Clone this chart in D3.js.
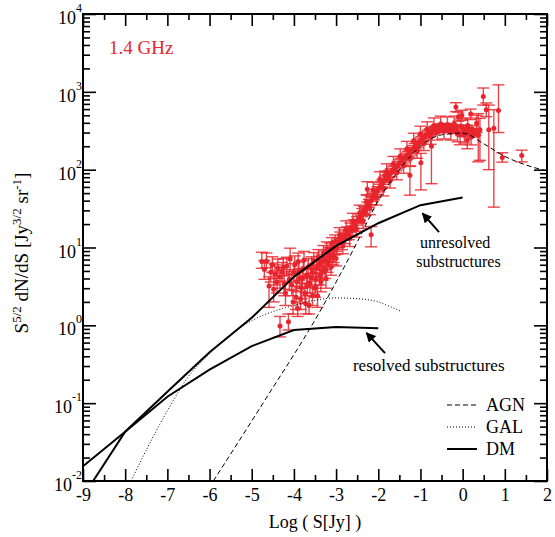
<!DOCTYPE html>
<html>
<head>
<meta charset="utf-8">
<script src="https://cdn.jsdelivr.net/npm/d3@7"></script>
<style>
  body { margin: 0; background: #fff; }
  svg { font-family: "Liberation Serif", "Times New Roman", serif; }
</style>
</head>
<body>
<div id="viz"></div>
<script>
// axis ticks
const xTicks = [-9, -8, -7, -6, -5, -4, -3, -2, -1, 0, 1, 2];
const xMinorTicks = [-8.5, -7.5, -6.5, -5.5, -4.5, -3.5, -2.5, -1.5, -0.5, 0.5, 1.5];
const yExponents = [-2, -1, 0, 1, 2, 3, 4];

// model curves: [log S, S^5/2 dN/dS]
const agnCurve = [
  [-5.91, 0.01], [-5, 0.059], [-4.5, 0.158], [-4, 0.42], [-3.5, 1.17], [-3, 3.6],
  [-2.5, 11.7], [-2, 40], [-1.5, 100], [-1, 200], [-0.5, 280], [0, 295], [0.5, 215],
  [1, 148], [1.5, 115], [2, 96]
];
const galCurve = [
  [-7.86, 0.01], [-7.5, 0.025], [-7, 0.08], [-6.5, 0.22], [-6, 0.43], [-5.5, 0.76],
  [-5, 1.15], [-4.5, 1.5], [-4, 1.8], [-3.5, 2.1], [-3, 2.25], [-2.5, 2.2],
  [-2, 2.0], [-1.72, 1.74], [-1.48, 1.53]
];
const dmUnresolved = [
  [-8.76, 0.01], [-8, 0.043], [-7, 0.14], [-6, 0.45], [-5, 1.25], [-4, 4.2],
  [-3, 10.5], [-2, 20.5], [-1, 35], [0, 44]
];
const dmResolved = [
  [-9, 0.0155], [-8, 0.043], [-7, 0.121], [-6, 0.27], [-5, 0.54], [-4, 0.87],
  [-3, 0.95], [-2, 0.92]
];

// source counts at 1.4 GHz: [log S, value, lower, upper]
const counts = [
  // faint end
  [-4.76, 6.6, 5.4, 8.7], [-4.70, 5.2, 3.9, 6.8], [-4.65, 6.7, 5.5, 8.5], [-4.59, 3.2, 1.7, 4.2],
  [-4.55, 4.8, 3.6, 6.3], [-4.51, 6.0, 4.8, 7.6], [-4.48, 2.9, 2.0, 4.0], [-4.45, 4.5, 3.3, 6.0],
  [-4.40, 3.6, 2.6, 5.0], [-4.38, 5.4, 4.0, 7.1], [-4.33, 4.2, 3.0, 5.6], [-4.33, 0.98, 0.71, 1.3],
  [-4.28, 4.9, 3.7, 6.4], [-4.25, 5.6, 4.3, 7.2], [-4.23, 3.4, 2.4, 4.7], [-4.20, 2.6, 1.8, 3.6],
  [-4.17, 5.8, 4.4, 7.5], [-4.13, 1.11, 0.87, 1.4], [-4.11, 3.9, 2.9, 5.2], [-4.09, 7.1, 4.9, 9.8],
  [-4.05, 3.3, 2.4, 4.5], [-4.02, 2.0, 1.4, 2.8], [-4.00, 4.8, 3.6, 6.2], [-3.98, 6.0, 4.6, 7.8],
  [-3.95, 2.3, 1.6, 3.2], [-3.93, 3.6, 2.7, 4.8], [-3.91, 1.65, 1.3, 2.0], [-3.90, 6.6, 5.0, 8.5],
  [-3.88, 5.0, 3.8, 6.5], [-3.86, 4.1, 3.1, 5.3], [-3.84, 2.2, 1.6, 3.0], [-3.82, 3.0, 2.2, 4.0],
  [-3.80, 4.0, 3.0, 5.3], [-3.78, 5.3, 4.1, 6.8], [-3.76, 6.9, 5.3, 8.9], [-3.74, 2.6, 1.9, 3.5],
  [-3.72, 1.9, 1.4, 2.6], [-3.70, 4.4, 3.4, 5.6], [-3.68, 3.2, 2.4, 4.3], [-3.66, 5.6, 4.3, 7.2],
  [-3.64, 1.8, 1.4, 2.4], [-3.62, 3.5, 2.6, 4.6], [-3.60, 4.1, 3.1, 5.4], [-3.58, 6.0, 4.7, 7.6],
  [-3.56, 2.4, 1.8, 3.2], [-3.55, 4.8, 3.7, 6.1], [-3.53, 6.8, 5.3, 8.6], [-3.50, 3.0, 2.3, 3.9],
  [-3.48, 4.0, 3.0, 5.2], [-3.46, 5.5, 4.3, 7.0], [-3.44, 2.4, 1.7, 3.3], [-3.42, 7.5, 5.9, 9.4],
  [-3.40, 6.0, 4.6, 7.7], [-3.38, 4.3, 3.3, 5.5], [-3.36, 3.6, 2.7, 4.7], [-3.34, 6.5, 5.1, 8.2],
  [-3.32, 5.0, 3.8, 6.5], [-3.30, 8.5, 6.8, 10.6], [-3.28, 7.2, 5.7, 9.0], [-3.26, 5.2, 4.0, 6.6],
  [-3.24, 4.0, 3.0, 5.2], [-3.22, 9.5, 7.7, 11.8], [-3.20, 6.2, 4.8, 7.9], [-3.18, 7.0, 5.6, 8.7],
  [-3.16, 8.2, 6.6, 10.1], [-3.14, 9.3, 7.6, 11.4], [-3.12, 5.6, 4.4, 7.1], [-3.10, 11.0, 9.0, 13.4],
  [-3.08, 7.5, 6.0, 9.3], [-3.06, 8.0, 6.4, 10.0], [-3.04, 9.8, 8.0, 11.9], [-3.02, 12.0, 9.9, 14.5],
  [-3.00, 7.2, 5.8, 8.9], [-2.98, 10.0, 8.2, 12.2],
  // main ridge
  [-2.94, 11.5, 10.0, 13.2], [-2.92, 14.5, 11.5, 18], [-2.90, 13.5, 11.5, 15.8], [-2.86, 11.0, 9.4, 12.9],
  [-2.84, 10.5, 8.3, 13], [-2.82, 14.5, 12.5, 16.8], [-2.78, 13.0, 11.2, 15.1], [-2.76, 17.5, 14, 22],
  [-2.74, 16.0, 13.9, 18.4], [-2.70, 14.5, 12.6, 16.7], [-2.68, 13, 10.3, 16.3], [-2.66, 18.0, 15.7, 20.6],
  [-2.62, 16.5, 14.4, 18.9], [-2.60, 22, 17.6, 27.5], [-2.58, 20.0, 17.6, 22.7], [-2.54, 18.5, 16.2, 21.1],
  [-2.52, 17, 13.6, 21.3], [-2.50, 22.0, 19.4, 24.9], [-2.46, 24.0, 21.2, 27.2], [-2.44, 28, 22.4, 35],
  [-2.42, 23.0, 20.3, 26.0], [-2.38, 28.0, 24.8, 31.6], [-2.36, 22, 17.6, 27.5], [-2.34, 30.0, 26.6, 33.8],
  [-2.30, 29.0, 25.7, 32.7], [-2.28, 38, 30.4, 47.5], [-2.26, 56.0, 47, 70], [-2.26, 34.0, 30.2, 38.3],
  [-2.22, 37.0, 32.9, 41.6], [-2.20, 33, 26.4, 41], [-2.18, 40.0, 35.6, 45.0], [-2.17, 14.6, 10.2, 18.6],
  [-2.14, 44.0, 39.2, 49.4], [-2.12, 55, 44, 69], [-2.10, 46.0, 41.0, 51.6], [-2.06, 50.0, 44.6, 56.0],
  [-2.04, 44, 35, 55], [-2.02, 54.0, 48.2, 60.5], [-1.98, 58.0, 51.8, 65.0], [-1.96, 75, 60, 94],
  [-1.94, 63.0, 56.3, 70.5], [-1.90, 67.0, 59.9, 75.0], [-1.88, 57, 46, 71], [-1.86, 72.0, 64.4, 80.5],
  [-1.84, 85.0, 75, 96], [-1.82, 76.0, 68, 85], [-1.80, 95, 76, 119], [-1.78, 82.0, 73, 92],
  [-1.74, 88.0, 79, 98], [-1.72, 72, 58, 90], [-1.70, 92.0, 82, 103], [-1.66, 98.0, 88, 109],
  [-1.64, 118, 94, 148], [-1.62, 102, 91, 114], [-1.58, 108, 97, 120], [-1.56, 92, 74, 115],
  [-1.54, 114, 102, 127], [-1.50, 120, 107, 134], [-1.48, 148, 118, 185], [-1.46, 126, 113, 140],
  [-1.42, 132, 118, 147], [-1.40, 112, 90, 140], [-1.38, 140, 125, 156], [-1.34, 146, 131, 163],
  [-1.32, 185, 148, 231], [-1.30, 154, 138, 172], [-1.26, 162, 145, 181], [-1.25, 85, 47, 110],
  [-1.24, 140, 112, 175], [-1.22, 172, 154, 192], [-1.18, 182, 163, 203], [-1.16, 235, 188, 294],
  [-1.14, 194, 174, 216], [-1.10, 205, 184, 228], [-1.08, 175, 140, 219], [-1.06, 216, 194, 240],
  [-1.02, 228, 205, 254], [-1.00, 290, 232, 362], [-0.99, 123, 55, 162], [-0.98, 240, 216, 267],
  [-0.94, 252, 227, 280], [-0.92, 220, 176, 275], [-0.90, 265, 239, 294], [-0.86, 276, 249, 306],
  [-0.84, 330, 264, 412], [-0.82, 290, 262, 321], [-0.78, 300, 271, 332], [-0.76, 265, 212, 331],
  [-0.74, 200, 66, 282], [-0.74, 312, 282, 345], [-0.70, 318, 288, 351], [-0.68, 370, 296, 462],
  [-0.66, 326, 295, 360], [-0.62, 332, 300, 367], [-0.60, 300, 240, 375], [-0.58, 340, 308, 376],
  [-0.54, 345, 312, 381], [-0.52, 390, 312, 487], [-0.50, 352, 319, 389], [-0.46, 348, 315, 385],
  [-0.44, 310, 248, 387], [-0.42, 340, 308, 376], [-0.38, 355, 321, 392], [-0.36, 380, 304, 475],
  [-0.34, 345, 312, 381], [-0.30, 338, 306, 374], [-0.28, 300, 240, 375], [-0.26, 350, 317, 387],
  [-0.22, 330, 299, 365], [-0.20, 390, 312, 487], [-0.18, 340, 308, 376], [-0.16, 640, 555, 725],
  [-0.14, 323, 292, 357], [-0.12, 285, 228, 356], [-0.10, 480, 420, 550], [-0.06, 278, 209, 372],
  [-0.04, 360, 288, 450], [-0.02, 500, 430, 580], [0.02, 330, 298, 365], [0.04, 275, 220, 344],
  [0.06, 315, 285, 348], [0.10, 338, 305, 374], [0.11, 240, 186, 300], [0.12, 370, 296, 462],
  [0.14, 310, 280, 343], [0.18, 300, 271, 332], [0.19, 520, 440, 600], [0.20, 260, 208, 325],
  [0.22, 330, 298, 365], [0.26, 290, 262, 321], [0.30, 305, 275, 337],
  // bright end
  [0.33, 395, 300, 500], [0.37, 280, 126, 525], [0.41, 325, 132, 457], [0.49, 870, 676, 1120],
  [0.56, 590, 480, 720], [0.62, 325, 100, 676], [0.74, 340, 33, 590], [0.85, 575, 300, 1230],
  [0.94, 143, 125, 165], [1.40, 152, 126, 178]
];

// legend entries
const legendItems = [
  { name: "AGN", dash: "5,3", width: 1 },
  { name: "GAL", dash: "1,2", width: 1 },
  { name: "DM", dash: null, width: 2 }
];

const red = "#e8252d";

function createVisualization() {
  const width = 555;
  const height = 537;
  const left = 83, right = 547, top = 14, bottom = 481;

  const svg = d3
    .select("#viz")
    .append("svg")
    .attr("width", width)
    .attr("height", height);

  const x = d3.scaleLinear().domain([-9, 2]).range([left, right]);
  const y = d3.scaleLog().domain([1e-2, 1e4]).range([bottom, top]);

  // minor y ticks: 2..9 in each decade
  const yMinorTicks = [];
  yExponents.slice(0, -1).forEach((e) => {
    for (let k = 2; k <= 9; k++) yMinorTicks.push(k * Math.pow(10, e));
  });
  const yMajorTicks = yExponents.map((e) => Math.pow(10, e));

  svg.append("clipPath")
    .attr("id", "plot-clip")
    .append("rect")
    .attr("x", left).attr("y", top)
    .attr("width", right - left).attr("height", bottom - top);

  // axes (ticks pointing inward on all four sides)
  const axes = [
    { axis: d3.axisBottom(x).tickValues(xTicks).tickSize(-12), t: `translate(0,${bottom})`, labels: true },
    { axis: d3.axisBottom(x).tickValues(xMinorTicks).tickSize(-6), t: `translate(0,${bottom})` },
    { axis: d3.axisTop(x).tickValues(xTicks).tickSize(-12), t: `translate(0,${top})` },
    { axis: d3.axisTop(x).tickValues(xMinorTicks).tickSize(-6), t: `translate(0,${top})` },
    { axis: d3.axisLeft(y).tickValues(yMajorTicks).tickSize(-13), t: `translate(${left},0)` },
    { axis: d3.axisLeft(y).tickValues(yMinorTicks).tickSize(-7), t: `translate(${left},0)` },
    { axis: d3.axisRight(y).tickValues(yMajorTicks).tickSize(-13), t: `translate(${right},0)` },
    { axis: d3.axisRight(y).tickValues(yMinorTicks).tickSize(-7), t: `translate(${right},0)` }
  ];
  axes.forEach((a) => {
    const g = svg.append("g")
      .attr("transform", a.t)
      .call(a.axis.tickSizeOuter(0).tickPadding(7)
        .tickFormat(a.labels ? (d) => String(d) : () => ""));
    g.select(".domain").remove();
    g.selectAll(".tick line").attr("stroke", "#000").attr("stroke-width", 1.6);
    g.selectAll(".tick text")
      .attr("fill", "#000")
      .style("font-family", "Liberation Serif")
      .style("font-size", "18px");
  });

  // y tick labels with superscript exponents
  const yLabels = svg.selectAll("text.ylab")
    .data(yExponents)
    .enter()
    .append("text")
    .classed("ylab", true)
    .attr("x", left - 1)
    .attr("y", (d) => y(Math.pow(10, d)) + 10)
    .attr("text-anchor", "end")
    .style("font-size", "18px");
  yLabels.append("tspan").text("10");
  yLabels.append("tspan")
    .attr("dy", -12)
    .style("font-size", "12px")
    .text((d) => String(d));

  // frame
  svg.append("rect")
    .attr("x", left).attr("y", top)
    .attr("width", right - left).attr("height", bottom - top)
    .attr("fill", "none")
    .attr("stroke", "#000")
    .attr("stroke-width", 2);

  const plot = svg.append("g").attr("clip-path", "url(#plot-clip)");
  const line = d3.line().x((d) => x(d[0])).y((d) => y(d[1]));
  const smooth = d3.line().x((d) => x(d[0])).y((d) => y(d[1])).curve(d3.curveMonotoneX);

  // error bars
  const capHalf = 6;
  const pts = plot.selectAll("g.pt")
    .data(counts)
    .enter()
    .append("g")
    .classed("pt", true)
    .attr("stroke", red)
    .attr("stroke-width", 1.4)
    .attr("stroke-opacity", 0.85);
  pts.append("line")
    .attr("x1", (d) => x(d[0])).attr("x2", (d) => x(d[0]))
    .attr("y1", (d) => y(d[2])).attr("y2", (d) => y(d[3]));
  pts.append("line")
    .attr("x1", (d) => x(d[0]) - capHalf).attr("x2", (d) => x(d[0]) + capHalf)
    .attr("y1", (d) => y(d[2])).attr("y2", (d) => y(d[2]));
  pts.append("line")
    .attr("x1", (d) => x(d[0]) - capHalf).attr("x2", (d) => x(d[0]) + capHalf)
    .attr("y1", (d) => y(d[3])).attr("y2", (d) => y(d[3]));
  pts.append("circle")
    .attr("cx", (d) => x(d[0]))
    .attr("cy", (d) => y(d[1]))
    .attr("r", 2.5)
    .attr("fill", red)
    .attr("stroke", "none");

  // model curves
  plot.append("path").datum(agnCurve)
    .attr("d", smooth).attr("fill", "none")
    .attr("stroke", "#000").attr("stroke-width", 1).attr("stroke-dasharray", "5,3");
  plot.append("path").datum(galCurve)
    .attr("d", smooth).attr("fill", "none")
    .attr("stroke", "#000").attr("stroke-width", 1).attr("stroke-dasharray", "1,2");
  [dmUnresolved, dmResolved].forEach((c) => {
    plot.append("path").datum(c)
      .attr("d", line).attr("fill", "none")
      .attr("stroke", "#000").attr("stroke-width", 2);
  });

  // arrows
  svg.append("defs").append("marker")
    .attr("id", "head")
    .attr("viewBox", "0 0 10 10")
    .attr("refX", 9).attr("refY", 5)
    .attr("markerWidth", 5).attr("markerHeight", 5)
    .attr("orient", "auto")
    .append("path").attr("d", "M0,0L10,5L0,10z").attr("fill", "#000");
  const arrows = [
    [[-0.56, 15.8], [-0.95, 27.5]],
    [[-1.84, 0.44], [-2.28, 0.8]]
  ];
  arrows.forEach((a) => {
    svg.append("line")
      .attr("x1", x(a[0][0])).attr("y1", y(a[0][1]))
      .attr("x2", x(a[1][0])).attr("y2", y(a[1][1]))
      .attr("stroke", "#000").attr("stroke-width", 2)
      .attr("marker-end", "url(#head)");
  });

  // annotations
  svg.append("text").attr("x", x(-1.01)).attr("y", 248)
    .style("font-size", "16px").text("unresolved");
  svg.append("text").attr("x", x(-1.1)).attr("y", 267)
    .style("font-size", "16px").text("substructures");
  svg.append("text").attr("x", x(-2.6)).attr("y", 371)
    .style("font-size", "17px").text("resolved substructures");

  svg.append("text").attr("x", 109).attr("y", 54)
    .attr("fill", red).style("font-size", "19px").text("1.4 GHz");

  // legend
  const legend = svg.selectAll("g.legend")
    .data(legendItems)
    .enter()
    .append("g")
    .classed("legend", true)
    .attr("transform", (d, i) => `translate(447,${405 + i * 22})`);
  legend.append("line")
    .attr("x1", 0).attr("x2", 30)
    .attr("stroke", "#000")
    .attr("stroke-width", (d) => d.width)
    .attr("stroke-dasharray", (d) => d.dash);
  legend.append("text")
    .attr("x", 39).attr("y", 6)
    .style("font-size", "18px")
    .text((d) => d.name);

  // axis titles
  svg.append("text")
    .attr("x", 315).attr("y", 528)
    .attr("text-anchor", "middle")
    .style("font-size", "18px")
    .text("Log ( S[Jy] )");

  const yTitle = svg.append("text")
    .attr("transform", "translate(28,253) rotate(-90)")
    .attr("text-anchor", "middle")
    .style("font-size", "19px");
  yTitle.append("tspan").text("S");
  yTitle.append("tspan").attr("dy", -7).style("font-size", "13px").text("5/2");
  yTitle.append("tspan").attr("dy", 7).text(" dN/dS [Jy");
  yTitle.append("tspan").attr("dy", -7).style("font-size", "13px").text("3/2");
  yTitle.append("tspan").attr("dy", 7).text(" sr");
  yTitle.append("tspan").attr("dy", -7).style("font-size", "13px").text("-1");
  yTitle.append("tspan").attr("dy", 7).text("]");
}

createVisualization();
</script>
</body>
</html>
